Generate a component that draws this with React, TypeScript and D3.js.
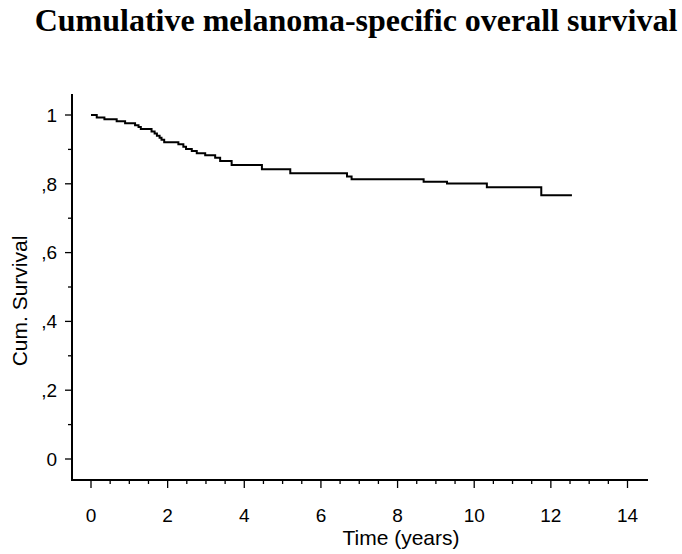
import React from "react";
import * as d3 from "d3";

// Kaplan–Meier step points: time of each event (years) and survival after it
const eventTimes = [
  0, 0.15, 0.35, 0.67, 0.89, 1.15, 1.24, 1.3, 1.58, 1.66, 1.72, 1.79, 1.84,
  1.91, 2.28, 2.41, 2.48, 2.63, 2.76, 2.98, 3.24, 3.37, 3.67, 4.46, 5.2, 6.68,
  6.8, 8.68, 9.29, 10.33, 11.75,
];
const survival = [
  1.0, 0.993, 0.988, 0.982, 0.976, 0.97, 0.965, 0.959, 0.952, 0.946, 0.94,
  0.934, 0.928, 0.921, 0.915, 0.908, 0.901, 0.895, 0.889, 0.883, 0.876, 0.866,
  0.855, 0.842, 0.831, 0.821, 0.813, 0.806, 0.801, 0.79, 0.767,
];
const lastFollowUp = 12.55;

const xTickValues = [0, 2, 4, 6, 8, 10, 12, 14];
const yTickValues = [0, 0.2, 0.4, 0.6, 0.8, 1];
const yTickLabels = ["0", ",2", ",4", ",6", ",8", "1"];

const W = 682;
const H = 554;
const FONT = "Arial, 'Liberation Sans', sans-serif";
const TICK_FS = 19;
const LABEL_FS = 21;

export default function App() {
  const x = d3.scaleLinear().domain([0, 14]).range([91, 627.5]);
  const y = d3.scaleLinear().domain([0, 1]).range([459, 115]);

  const axisX = 72;
  const axisY = 480;

  const pts: [number, number][] = eventTimes.map((t, i) => [t, survival[i]]);
  pts.push([lastFollowUp, survival[survival.length - 1]]);
  const line = d3
    .line<[number, number]>()
    .x((d) => x(d[0]))
    .y((d) => y(d[1]))
    .curve(d3.curveStepAfter);

  const minorX = d3.range(0, 14.01, 0.5).filter((v) => v % 2 !== 0);
  const minorY = d3.range(0.1, 1, 0.2);

  return (
    <svg
      width={W}
      height={H}
      style={{ position: "absolute", left: 0, top: 0, background: "#fff" }}
    >
      <rect width={W} height={H} fill="#fff" />
      <text
        x={356}
        y={31}
        textAnchor="middle"
        fontFamily="'Times New Roman', 'Liberation Serif', serif"
        fontWeight="bold"
        fontSize={32}
        fill="#000"
      >
        Cumulative melanoma-specific overall survival
      </text>

      {/* axes */}
      <line x1={axisX} x2={axisX} y1={94} y2={axisY + 1} stroke="#000" strokeWidth={2} />
      <line x1={axisX - 1} x2={648} y1={axisY} y2={axisY} stroke="#000" strokeWidth={2} />

      {yTickValues.map((v, i) => (
        <g key={"yt" + i}>
          <line x1={axisX - 7} x2={axisX} y1={y(v)} y2={y(v)} stroke="#000" strokeWidth={1.3} />
          <text
            x={57}
            y={y(v) + TICK_FS * 0.36}
            textAnchor="end"
            fontFamily={FONT}
            fontSize={TICK_FS}
            fill="#000"
          >
            {yTickLabels[i]}
          </text>
        </g>
      ))}
      {minorY.map((v, i) => (
        <line key={"ym" + i} x1={axisX - 4} x2={axisX} y1={y(v)} y2={y(v)} stroke="#000" strokeWidth={1.3} />
      ))}

      {xTickValues.map((v, i) => (
        <g key={"xt" + i}>
          <line x1={x(v)} x2={x(v)} y1={axisY} y2={axisY + 8} stroke="#000" strokeWidth={1.3} />
          <text
            x={x(v)}
            y={522}
            textAnchor="middle"
            fontFamily={FONT}
            fontSize={TICK_FS}
            fill="#000"
          >
            {v}
          </text>
        </g>
      ))}
      {minorX.map((v, i) => (
        <line key={"xm" + i} x1={x(v)} x2={x(v)} y1={axisY} y2={axisY + 4} stroke="#000" strokeWidth={1.3} />
      ))}

      <text
        x={401}
        y={545}
        textAnchor="middle"
        fontFamily={FONT}
        fontSize={LABEL_FS}
        fill="#000"
      >
        Time (years)
      </text>
      <text
        transform={`translate(27, 301) rotate(-90)`}
        textAnchor="middle"
        fontFamily={FONT}
        fontSize={LABEL_FS}
        fill="#000"
      >
        Cum. Survival
      </text>

      <path d={line(pts) ?? ""} fill="none" stroke="#000" strokeWidth={2} />
    </svg>
  );
}
